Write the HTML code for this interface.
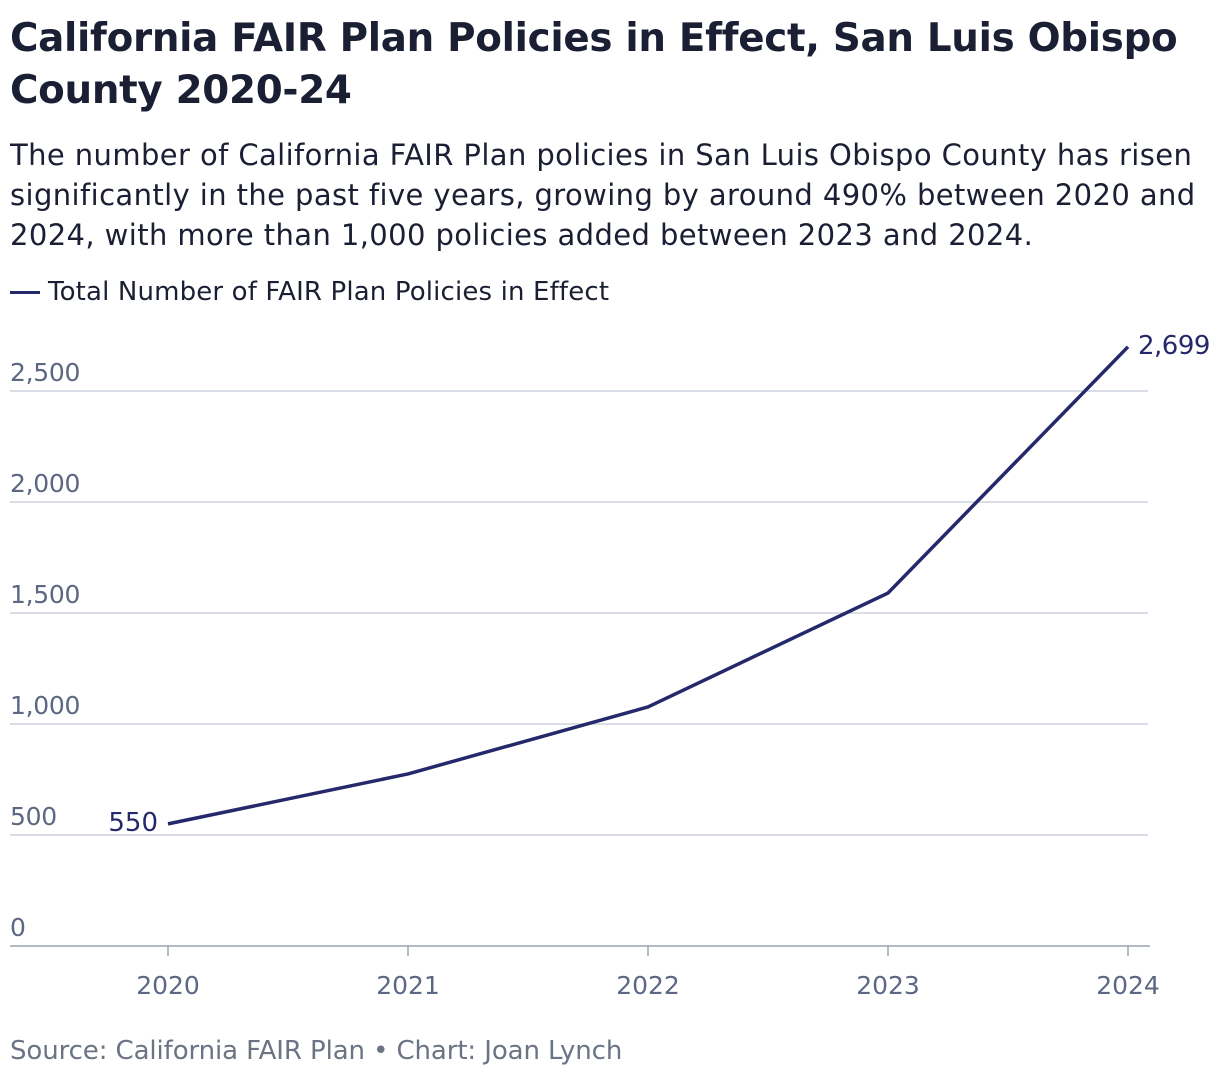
<!DOCTYPE html>
<html><head><meta charset="utf-8"><style>
body{margin:0;background:#fff;width:1220px;height:1080px;overflow:hidden;font-family:"DejaVu Sans","Liberation Sans",sans-serif;color:#1b1f33}
#title{position:absolute;left:10px;top:13px;font-size:38.8px;font-weight:bold;line-height:52px;margin:0;letter-spacing:-0.3px;white-space:nowrap}
#sub{position:absolute;left:10px;top:135px;font-size:29px;line-height:40px;width:1215px;letter-spacing:0.4px;white-space:nowrap}
#legend{position:absolute;left:10px;top:277px;font-size:26px;display:flex;align-items:center;letter-spacing:0.15px}
#legend span.sw{display:inline-block;width:30px;height:3px;background:#25296b;margin-right:8px}
#src{position:absolute;left:10px;top:1036px;font-size:26px;color:#6b7385;letter-spacing:-0.1px}
svg{position:absolute;left:0;top:0}
</style></head><body>
<div id="title">California FAIR Plan Policies in Effect, San Luis Obispo<br>County 2020-24</div>
<div id="sub">The number of California FAIR Plan policies in San Luis Obispo County has risen<br>significantly in the past five years, growing by around 490% between 2020 and<br>2024, with more than 1,000 policies added between 2023 and 2024.</div>
<div id="legend"><span class="sw"></span>Total Number of FAIR Plan Policies in Effect</div>
<svg id="chart" width="1220" height="1080"></svg>
<div id="src">Source: California FAIR Plan • Chart: Joan Lynch</div>
<script>
const years=["2020","2021","2022","2023","2024"];
const values=[550,775,1077,1590,2699];
const yTicks=[0,500,1000,1500,2000,2500];
const yTickLabels=["0","500","1,000","1,500","2,000","2,500"];
const NS="http://www.w3.org/2000/svg";
const svg=document.getElementById('chart');
const x=i=>168+i*240;
const y=v=>946-v*0.222;
function mk(t,a){const e=document.createElementNS(NS,t);for(const k in a)e.setAttribute(k,a[k]);svg.appendChild(e);return e;}
yTicks.forEach((t,i)=>{
  if(t>0){const g=mk('line',{x1:10,x2:1148,y1:y(t),y2:y(t),stroke:'#c3cad6','stroke-width':1.2});
  
  }
  const l=mk('text',{x:10,y:y(t)-10,'font-size':25,fill:'#5c6782','font-family':'DejaVu Sans, sans-serif','letter-spacing':'-0.3'});
  l.textContent=yTickLabels[i];
  
  
});
const ax=mk('line',{x1:10,x2:1150,y1:946,y2:946,stroke:'#9aa3b2','stroke-width':1.5});


years.forEach((yr,i)=>{
  const tk=mk('line',{x1:x(i),x2:x(i),y1:946,y2:956,stroke:'#9aa3b2','stroke-width':1.5});
  
  
  const t=mk('text',{x:x(i),y:994,'font-size':25,fill:'#5c6782','text-anchor':'middle','font-family':'DejaVu Sans, sans-serif'});
  t.textContent=yr;
  
  
});
const pts=values.map((v,i)=>x(i)+','+y(v)).join(' ');
const pl=mk('polyline',{points:pts,fill:'none',stroke:'#25296b','stroke-width':3.5,'stroke-linejoin':'round'});


const f=mk('text',{x:x(0)-10,y:y(values[0])+7,'font-size':26,fill:'#25296b','text-anchor':'end','font-family':'DejaVu Sans, sans-serif'});
f.textContent=values[0].toLocaleString('en-US');


const n=values.length-1;
const la=mk('text',{x:x(n)+10,y:y(values[n])+7,'font-size':26,fill:'#25296b','font-family':'DejaVu Sans, sans-serif','letter-spacing':'-0.5'});
la.textContent=values[n].toLocaleString('en-US');


</script>
</body></html>
